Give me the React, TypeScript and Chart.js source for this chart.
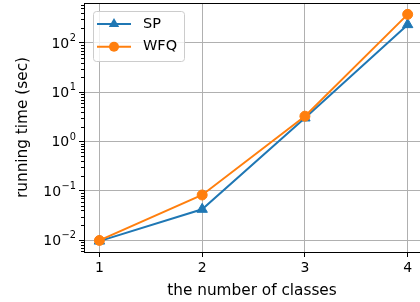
import React, { useEffect, useRef } from "react";
import { Chart, registerables } from "chart.js";

Chart.register(...registerables);

const classes = [1, 2, 3, 4];
const spTimes = [0.0095, 0.042, 3.0, 235];
const wfqTimes = [0.0098, 0.082, 3.26, 380];
const seriesNames = ["SP", "WFQ"];
const seriesColors = ["#1f77b4", "#ff7f0e"];
const seriesMarkers = ["triangle", "circle"];
const yTickValues = [0.01, 0.1, 1, 10, 100];
const yTickBase = "10";
const yTickExponents = ["−2", "−1", "0", "1", "2"];
const xTickValues = [1, 2, 3, 4];
const xTitle = "the number of classes";
const yTitle = "running time (sec)";

const FONT = "'DejaVu Sans', sans-serif";

const framePlugin = {
  id: "frame",
  afterDraw(chart: any) {
    const { ctx, chartArea } = chart;
    const y = chart.scales.y;
    ctx.save();
    ctx.strokeStyle = "#000";
    ctx.lineWidth = 1;
    ctx.beginPath();
    ctx.moveTo(chartArea.left, chartArea.top + 0.5);
    ctx.lineTo(chartArea.right, chartArea.top + 0.5);
    ctx.stroke();
    // minor ticks on log axis
    ctx.beginPath();
    for (let k = -4; k <= 3; k++) {
      for (let m = 2; m <= 9; m++) {
        const v = m * Math.pow(10, k);
        if (v < y.min || v > y.max) continue;
        const py = Math.round(y.getPixelForValue(v)) + 0.5;
        ctx.moveTo(chartArea.left - 3, py);
        ctx.lineTo(chartArea.left, py);
      }
    }
    ctx.stroke();
    // y tick labels as 10^k
    ctx.fillStyle = "#000";
    ctx.textAlign = "right";
    ctx.textBaseline = "alphabetic";
    const right = chartArea.left - 8;
    yTickValues.forEach((v, i) => {
      const py = y.getPixelForValue(v);
      ctx.font = `9.8px ${FONT}`;
      const ew = ctx.measureText(yTickExponents[i]).width;
      ctx.fillText(yTickExponents[i], right, py - 1.7);
      ctx.font = `14px ${FONT}`;
      ctx.fillText(yTickBase, right - ew - 0.5, py + 4.8);
    });
    ctx.restore();
  },
};

const legendPlugin = {
  id: "mplLegend",
  afterDatasetsDraw(chart: any) {
    const { ctx, chartArea } = chart;
    const x0 = chartArea.left + 9;
    const y0 = chartArea.top + 8;
    const w = 91;
    const h = 50;
    ctx.save();
    ctx.globalAlpha = 0.8;
    ctx.fillStyle = "#fff";
    ctx.strokeStyle = "#cccccc";
    ctx.lineWidth = 1;
    ctx.beginPath();
    ctx.roundRect(x0 + 0.5, y0 + 0.5, w, h, 3);
    ctx.fill();
    ctx.globalAlpha = 1;
    ctx.stroke();
    chart.data.datasets.forEach((ds: any, i: number) => {
      const cy = y0 + 13 + i * 22.7;
      ctx.strokeStyle = ds.borderColor;
      ctx.lineWidth = 2;
      ctx.beginPath();
      ctx.moveTo(x0 + 4, cy);
      ctx.lineTo(x0 + 38, cy);
      ctx.stroke();
      ctx.fillStyle = ds.borderColor;
      ctx.beginPath();
      if (ds.pointStyle === "triangle") {
        const r = 6;
        ctx.moveTo(x0 + 21, cy - r);
        ctx.lineTo(x0 + 21 + r * 0.866, cy + r * 0.5);
        ctx.lineTo(x0 + 21 - r * 0.866, cy + r * 0.5);
        ctx.closePath();
      } else {
        ctx.arc(x0 + 21, cy, 5, 0, Math.PI * 2);
      }
      ctx.fill();
      ctx.fillStyle = "#000";
      ctx.font = `14.5px ${FONT}`;
      ctx.textBaseline = "middle";
      ctx.textAlign = "left";
      ctx.fillText(ds.label, x0 + 50, cy);
    });
    ctx.restore();
  },
};

export default function App() {
  const ref = useRef<HTMLCanvasElement | null>(null);
  useEffect(() => {
    if (!ref.current) return;
    Chart.defaults.font.family = FONT;
    Chart.defaults.font.size = 14;
    Chart.defaults.color = "#000";
    const series = [spTimes, wfqTimes];
    const chart = new Chart(ref.current, {
      type: "line",
      data: {
        datasets: series.map((vals, i) => ({
          label: seriesNames[i],
          data: classes.map((c, j) => ({ x: c, y: vals[j] })),
          borderColor: seriesColors[i],
          backgroundColor: seriesColors[i],
          pointBackgroundColor: seriesColors[i],
          pointBorderColor: seriesColors[i],
          pointStyle: seriesMarkers[i],
          pointRadius: seriesMarkers[i] === "triangle" ? 6 : 5,
          pointBorderWidth: 1,
          borderWidth: 2,
          tension: 0,
          order: i === 0 ? 2 : 1,
        })),
      },
      options: {
        animation: false,
        responsive: false,
        layout: { autoPadding: false, padding: { top: 3, left: 0, right: 0, bottom: 0 } },
        plugins: { legend: { display: false }, tooltip: { enabled: false } },
        scales: {
          x: {
            type: "linear",
            min: 0.85,
            max: 4.12,
            afterFit: (s: any) => {
              s.height = 50;
              s.paddingLeft = 0;
              s.paddingRight = 0;
            },
            afterBuildTicks: (s: any) => {
              s.ticks = xTickValues.map((v) => ({ value: v }));
            },
            ticks: {
              autoSkip: false,
              maxRotation: 0,
              padding: 3,
              callback: (v: any) => String(v),
              font: { size: 14, family: FONT },
              color: "#000",
            },
            grid: {
              color: "#b0b0b0",
              lineWidth: 1,
              tickColor: "#000",
              tickLength: 5,
            },
            border: { color: "#000", width: 1 },
            title: {
              display: true,
              text: xTitle,
              font: { size: 15.3, family: FONT },
              color: "#000",
              padding: { top: 0, bottom: 2 },
            },
          },
          y: {
            type: "logarithmic",
            min: 0.00571,
            max: 646,
            afterFit: (s: any) => {
              s.width = 84;
              s.paddingTop = 0;
              s.paddingBottom = 0;
            },
            afterBuildTicks: (s: any) => {
              s.ticks = yTickValues.map((v) => ({ value: v }));
            },
            ticks: {
              display: false,
              autoSkip: false,
            },
            grid: {
              color: "#b0b0b0",
              lineWidth: 1,
              tickColor: "#000",
              tickLength: 5,
            },
            border: { color: "#000", width: 1 },
            title: {
              display: true,
              text: yTitle,
              font: { size: 15.3, family: FONT },
              color: "#000",
              padding: { top: 14, bottom: 0 },
            },
          },
        },
      },
      plugins: [framePlugin, legendPlugin],
    } as any);
    return () => chart.destroy();
  }, []);
  return (
    <div style={{ position: "absolute", left: 0, top: 0, width: 420, height: 302 }}>
      <canvas ref={ref} width={420} height={302} style={{ display: "block" }} />
    </div>
  );
}
